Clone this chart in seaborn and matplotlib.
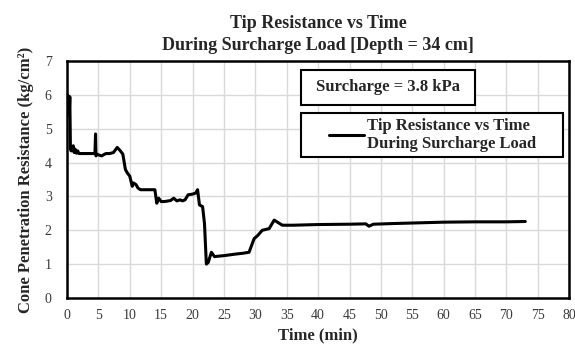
import matplotlib
matplotlib.use("Agg")
import matplotlib.pyplot as plt
from matplotlib.patches import Rectangle
import seaborn as sns
import pandas as pd

# Tip resistance readings during surcharge loading (depth 34 cm)
time_min = [0.0, 0.12, 0.2, 0.28, 0.36, 0.45, 0.55, 0.65, 0.8, 1.0, 1.15, 1.3, 1.5, 1.7, 1.9,
            2.5, 3.5, 4.45, 4.55, 4.62, 4.75, 5.5, 6.2, 6.8, 7.4, 8.0, 8.5, 8.9, 9.3, 9.6,
            10.0, 10.4, 10.6, 11.0, 11.3, 11.7, 12.2, 13.0, 14.0, 14.3, 14.6, 15.0, 15.5,
            16.5, 17.0, 17.5, 18.0, 18.4, 18.8, 19.3, 20.0, 20.5, 20.8, 21.1, 21.6, 21.9,
            22.2, 22.5, 23.0, 23.5, 23.9, 25.0, 27.0, 28.0, 29.0, 29.8, 30.4, 31.1, 32.2,
            33.0, 34.3, 36.0, 40.0, 45.0, 47.6, 48.1, 48.8, 52.0, 56.0, 60.0, 65.0, 70.0, 73.0]
resistance = [5.4, 6.0, 5.5, 5.9, 5.4, 5.95, 4.4, 4.35, 4.35, 4.5, 4.3, 4.4, 4.28, 4.35, 4.27,
              4.27, 4.27, 4.27, 4.85, 4.2, 4.25, 4.2, 4.27, 4.27, 4.3, 4.45, 4.35, 4.25, 3.8, 3.7,
              3.6, 3.3, 3.4, 3.35, 3.25, 3.2, 3.2, 3.2, 3.2, 2.8, 2.95, 2.85, 2.85,
              2.88, 2.95, 2.87, 2.9, 2.87, 2.9, 3.05, 3.07, 3.1, 3.2, 2.75, 2.7, 2.2,
              1.0, 1.05, 1.35, 1.22, 1.23, 1.25, 1.3, 1.32, 1.35, 1.75, 1.85, 2.0, 2.05,
              2.3, 2.15, 2.15, 2.17, 2.18, 2.19, 2.12, 2.18, 2.2, 2.22, 2.24, 2.25, 2.25, 2.26]

x_ticks = list(range(0, 81, 5))
y_ticks = list(range(0, 8))

title = "Tip Resistance vs Time\nDuring Surcharge Load [Depth = 34 cm]"
series_label = "Tip Resistance vs Time\nDuring Surcharge Load"
note = "Surcharge = 3.8 kPa"

sns.set_style("whitegrid", {"grid.color": "#d9d9d9"})
plt.rcParams["font.family"] = ["Liberation Serif", "DejaVu Serif"]

df = pd.DataFrame({"Time (min)": time_min, "Resistance": resistance})

fig, ax = plt.subplots(figsize=(5.75, 3.46), dpi=100)
fig.subplots_adjust(left=0.1165, right=0.99, top=0.823, bottom=0.139)

sns.lineplot(data=df, x="Time (min)", y="Resistance", ax=ax, color="black",
             linewidth=2.2, label=series_label, estimator=None, sort=False)

ax.set_xlim(0, 80)
ax.set_ylim(0, 7)
ax.set_xticks(x_ticks)
ax.set_yticks(y_ticks)
ax.tick_params(axis="both", length=0, labelsize=10, labelcolor="#3a3a3a")
ax.tick_params(axis="x", pad=8)
ax.tick_params(axis="y", pad=11)
for s in ax.spines.values():
    s.set_color("black")
    s.set_linewidth(1.8)
ax.grid(True, color="#d9d9d9", linewidth=1.0)

ax.set_xlabel("Time (min)", fontsize=12, fontweight="bold", labelpad=4)
ax.set_ylabel("Cone Penetration Resistance (kg/cm²)", fontsize=12,
              fontweight="bold", labelpad=8)
ax.set_title(title, fontsize=13, fontweight="bold", pad=8, linespacing=1.42)

# Note box
ax.add_patch(Rectangle((0.466, 0.814), 0.347, 0.148, transform=ax.transAxes,
                       facecolor="white", edgecolor="black", linewidth=1.5, zorder=5))
ax.text(0.6395, 0.89, note, transform=ax.transAxes, fontsize=12, fontweight="bold",
        va="center", ha="center", zorder=6)

# Legend box
ax.add_patch(Rectangle((0.466, 0.596), 0.522, 0.186, transform=ax.transAxes,
                       facecolor="white", edgecolor="black", linewidth=1.5, zorder=5))
leg = ax.legend(loc="center left", bbox_to_anchor=(0.522, 0.689), frameon=False,
                prop={"weight": "bold", "size": 12}, handlelength=2.1, handletextpad=0.15,
                borderpad=0, borderaxespad=0)
leg.set_zorder(7)
for t in leg.get_texts():
    t.set_linespacing(1.2)

fig.savefig("out.png", dpi=100)
